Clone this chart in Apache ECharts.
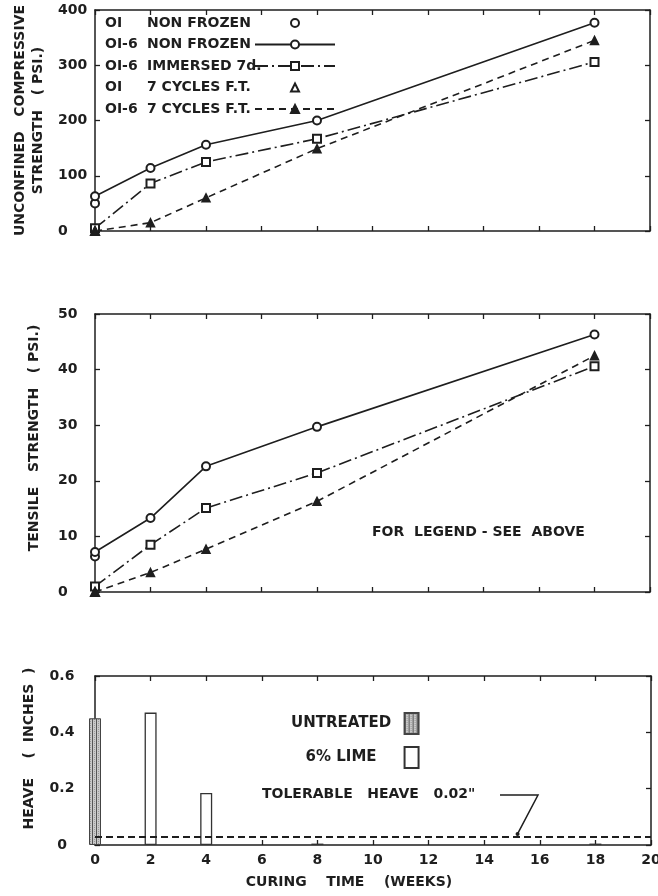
<!DOCTYPE html>
<html><head><meta charset="utf-8">
<script src="https://cdn.jsdelivr.net/npm/echarts@6/dist/echarts.min.js"></script>
<style>html,body{margin:0;padding:0;background:#fff}#c{width:658px;height:896px}</style>
</head><body><div id="c"></div>
<script>
// ---------- data ----------
const weeks = [0, 2, 4, 8, 18];
// Unconfined compressive strength (psi)
const ucsOI_NonFrozenWeeks = [0];
const ucsOI_NonFrozen = [50];
const ucsOI6_NonFrozen = [63, 114, 156, 200, 377];
const ucsOI6_Immersed = [5, 86, 125, 167, 306];
const ucsOI_FTWeeks = [0];
const ucsOI_FT = [0];
const ucsOI6_FT = [0, 15, 60, 149, 345];
// Tensile strength (psi)
const tsOI_NonFrozenWeeks = [0];
const tsOI_NonFrozen = [6.4];
const tsOI6_NonFrozen = [7.2, 13.3, 22.6, 29.7, 46.3];
const tsOI6_Immersed = [1, 8.5, 15.1, 21.4, 40.6];
const tsOI_FTWeeks = [0];
const tsOI_FT = [0];
const tsOI6_FT = [0, 3.5, 7.7, 16.3, 42.5];
// Heave (inches)
const heaveUntreatedWeeks = [0];
const heaveUntreated = [0.45];
const heaveLimeWeeks = [2, 4, 8, 18];
const heaveLime = [0.47, 0.185, 0.005, 0.005];
const tolerableHeave = 0.025;
const seriesNames = ['OI NON FROZEN', 'OI-6 NON FROZEN', 'OI-6 IMMERSED 7d.', 'OI 7 CYCLES F.T.', 'OI-6 7 CYCLES F.T.'];
const heaveNames = ['UNTREATED', '6% LIME'];

// ---------- styles ----------
const ink = '#1e1e1e';
const FONT = 'DejaVu Sans';
const pair = (xs, ys) => xs.map((x, i) => [x, ys[i]]);

const hatch = document.createElement('canvas');
hatch.width = 4; hatch.height = 2;
(function () {
  const g = hatch.getContext('2d');
  g.fillStyle = '#c8c8c8'; g.fillRect(0, 0, 4, 2);
  g.fillStyle = '#555'; g.fillRect(0, 0, 1, 2);
  g.fillStyle = '#999'; g.fillRect(2, 1, 1, 1);
})();

const grids = [
  { left: 95, top: 10, width: 555, height: 221 },
  { left: 95, top: 314, width: 555, height: 278 },
  { left: 95, top: 676, width: 556, height: 169 }
];

const lineAx = { show: true, onZero: false, lineStyle: { color: ink, width: 1.5 } };
const tickIn = { show: true, inside: true, length: 5, lineStyle: { color: ink, width: 1.3 } };
const labelStyle = { color: ink, fontFamily: FONT, fontWeight: 'bold', fontSize: 14 };

function xPair(gi, labels) {
  return [
    {
      type: 'value', gridIndex: gi, min: 0, max: 20, interval: 2, position: 'bottom',
      axisLine: lineAx, axisTick: tickIn, splitLine: { show: false },
      axisLabel: Object.assign({ show: labels, margin: 8 }, labelStyle),
      name: labels ? 'CURING    TIME    (WEEKS)' : '',
      nameLocation: 'middle', nameGap: 30,
      nameTextStyle: Object.assign({ padding: [0, 48, 0, 0] }, labelStyle)
    },
    {
      type: 'value', gridIndex: gi, min: 0, max: 20, interval: 2, position: 'top',
      axisLine: lineAx, axisTick: tickIn, splitLine: { show: false }, axisLabel: { show: false }
    }
  ];
}
function yPair(gi, min, max, interval, name, gap, pad, labAlign, labMargin) {
  return [
    {
      type: 'value', gridIndex: gi, min: min, max: max, interval: interval, position: 'left',
      axisLine: lineAx, axisTick: tickIn, splitLine: { show: false },
      axisLabel: Object.assign({ align: labAlign, margin: labMargin }, labelStyle),
      name: name, nameLocation: 'middle', nameRotate: 90, nameGap: gap,
      nameTextStyle: Object.assign({ padding: pad, lineHeight: 18 }, labelStyle)
    },
    {
      type: 'value', gridIndex: gi, min: min, max: max, interval: interval, position: 'right',
      axisLine: lineAx, axisTick: tickIn, splitLine: { show: false }, axisLabel: { show: false }
    }
  ];
}

const dashDot = [13, 4, 2, 4];
const dashed = [7, 5];
function strengthSeries(ax, a, b, c, d, e, aw, dw) {
  const base = { type: 'line', xAxisIndex: ax, yAxisIndex: ax, symbolSize: 8, color: ink,
    itemStyle: { color: ink, borderColor: ink, borderWidth: 1.5 }, z: 3 };
  return [
    Object.assign({}, base, { name: seriesNames[0], data: pair(aw, a), symbol: 'emptyCircle',
      lineStyle: { width: 0, opacity: 0 } }),
    Object.assign({}, base, { name: seriesNames[1], data: pair(weeks, b), symbol: 'emptyCircle',
      lineStyle: { color: ink, width: 1.6, type: 'solid' } }),
    Object.assign({}, base, { name: seriesNames[2], data: pair(weeks, c), symbol: 'emptyRect',
      lineStyle: { color: ink, width: 1.6, type: dashDot } }),
    Object.assign({}, base, { name: seriesNames[3], data: pair(dw, d), symbol: 'emptyTriangle',
      lineStyle: { width: 0, opacity: 0 } }),
    Object.assign({}, base, { name: seriesNames[4], data: pair(weeks, e), symbol: 'triangle',
      lineStyle: { color: ink, width: 1.6, type: dashed } })
  ];
}

const chart = echarts.init(document.getElementById('c'), null, { renderer: 'canvas' });
const baseGraphic = [
  { type: 'text', left: 372, top: 525, style: { text: 'FOR  LEGEND - SEE  ABOVE', fill: ink, font: 'bold 14px "DejaVu Sans"' } },
  { type: 'text', left: 262, top: 787, style: { text: 'TOLERABLE   HEAVE   0.02"', fill: ink, font: 'bold 14px "DejaVu Sans"' } }
];
const option = {
  backgroundColor: '#fff',
  animation: false,
  grid: grids.map(g => Object.assign({ containLabel: false, outerBoundsMode: 'none' }, g)),
  xAxis: [].concat(xPair(0, false), xPair(1, false), xPair(2, true)),
  yAxis: [].concat(
    yPair(0, 0, 400, 100, 'UNCONFINED   COMPRESSIVE\nSTRENGTH   ( PSI.)', 48, [0, 0, 0, 0], 'left', 37),
    yPair(1, 0, 50, 10, 'TENSILE   STRENGTH   ( PSI.)', 52, [0, 0, 0, 30], 'left', 37),
    yPair(2, 0, 0.6, 0.2, 'HEAVE    (  INCHES  )', 52, [0, 0, 0, 24], 'center', 33)
  ),
  legend: [
    {
      data: seriesNames, orient: 'vertical', left: 100, top: 11, align: 'right',
      itemWidth: 80, itemHeight: 10, itemGap: 7.5, selectedMode: false,
      formatter: n => { const i = n.indexOf(' '); return '{a|' + n.slice(0, i) + '}{b|' + n.slice(i + 1) + '}'; },
      textStyle: Object.assign({}, labelStyle, {
        rich: {
          a: Object.assign({ width: 42, align: 'left' }, labelStyle),
          b: Object.assign({ width: 103, align: 'left' }, labelStyle)
        }
      })
    },
    {
      data: heaveNames, orient: 'vertical', left: 286, top: 707, align: 'right',
      itemWidth: 14, itemHeight: 21, itemGap: 11, selectedMode: false, icon: 'rect',
      formatter: n => '{t|' + n + '}',
      textStyle: Object.assign({}, labelStyle, { rich: { t: Object.assign({}, labelStyle, { fontSize: 15, width: 117, align: 'center' }) } })
    }
  ],
  series: [].concat(
    strengthSeries(0, ucsOI_NonFrozen, ucsOI6_NonFrozen, ucsOI6_Immersed, ucsOI_FT, ucsOI6_FT, ucsOI_NonFrozenWeeks, ucsOI_FTWeeks),
    strengthSeries(2, tsOI_NonFrozen, tsOI6_NonFrozen, tsOI6_Immersed, tsOI_FT, tsOI6_FT, tsOI_NonFrozenWeeks, tsOI_FTWeeks),
    [
      {
        name: heaveNames[0], type: 'bar', xAxisIndex: 4, yAxisIndex: 4, barWidth: 12, barGap: '-100%', clip: false,
        data: pair(heaveUntreatedWeeks, heaveUntreated),
        itemStyle: { color: { image: hatch, repeat: 'repeat' }, borderColor: '#444', borderWidth: 1 }
      },
      {
        name: heaveNames[1], type: 'bar', xAxisIndex: 4, yAxisIndex: 4, barWidth: 12, barGap: '-100%', clip: false,
        data: pair(heaveLimeWeeks, heaveLime),
        itemStyle: { color: '#fff', borderColor: '#333', borderWidth: 1.3 },
        markLine: {
          silent: true, symbol: 'none', label: { show: false },
          lineStyle: { color: ink, width: 2, type: [7, 4] },
          data: [{ yAxis: tolerableHeave }]
        }
      }
    ]
  ),
  graphic: baseGraphic
};
chart.setOption(option);
const tip = chart.convertToPixel({ xAxisIndex: 4, yAxisIndex: 4 }, [15.2, tolerableHeave]);
chart.setOption({
  graphic: baseGraphic.concat([
    { type: 'polyline', shape: { points: [[500, 795], [538, 795], [tip[0], tip[1] - 4]] }, style: { stroke: ink, lineWidth: 1.5, fill: null } },
    { type: 'circle', shape: { cx: tip[0], cy: tip[1] - 4, r: 2 }, style: { fill: ink } }
  ])
}, { replaceMerge: ['graphic'] });
</script>
</body></html>
